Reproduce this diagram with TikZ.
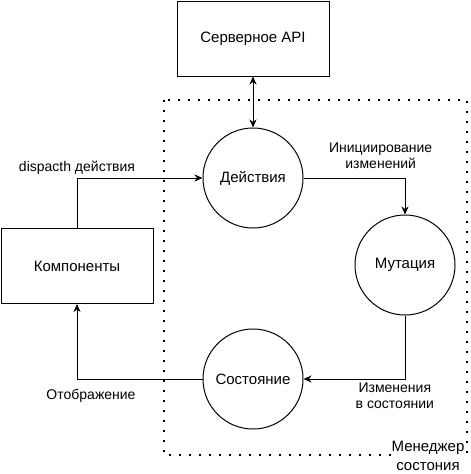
\documentclass[tikz,border=0pt]{standalone}
\usepackage{fontspec}
\setmainfont{Liberation Sans}
\usepackage{tikz}
\usetikzlibrary{calc,arrows,arrows.meta}

\begin{document}
\begin{tikzpicture}[x=1pt,y=1pt,line width=1pt,>={Stealth[length=8pt,width=7pt,inset=2.5pt]}]
                \tikzstyle{every node}+=[inner sep=0pt]
                \tikzstyle{block}=[draw=black, minimum width=152pt, minimum height=75pt, font=\fontsize{15}{18}\selectfont]
                \tikzstyle{stage}=[draw=black, circle, minimum size=100pt, font=\fontsize{15}{18}\selectfont]
                \tikzstyle{tag}=[align=center, font=\fontsize{14}{16}\selectfont]
                \useasboundingbox (0,0) rectangle (471,-474);
                \draw [black, dash pattern=on 1.6pt off 8.4pt, line width=1.6pt] (164,-100) rectangle (467,-455);
                \node [block] (api) at (253,-38.5) {Серверное API};
                \node [block] (comp) at (77,-266) {Компоненты};
                \node [stage] (act) at (253,-178) {Действия};
                \node [stage] (mut) at (405,-265) {Мутация};
                \node [stage] (sta) at (253,-379) {Состояние};
                \draw [black, <->] (api) -- (act);
                \draw [black, ->] (act.east) -| (mut.north) node [tag, pos=0.38, above=9pt] {Инициирование\\изменений};
                \draw [black, ->] (mut.south) |- (sta.east) node [tag, pos=0.55, below=1pt, fill=white, inner sep=2pt] {Изменения\\в состоянии};
                \draw [black, ->] (comp.north) |- (act.west) node [tag, pos=0.5, above=3pt] {dispacth действия};
                \draw [black, ->] (sta.west) -| (comp.south) node [tag, pos=0.5, below=10pt, xshift=14pt] {Отображение};
                \node [tag, fill=white, inner sep=1pt, font=\fontsize{15}{19}\selectfont] (mgr) at (428,-456) {Менеджер\\состония};
\end{tikzpicture}
\end{document}
